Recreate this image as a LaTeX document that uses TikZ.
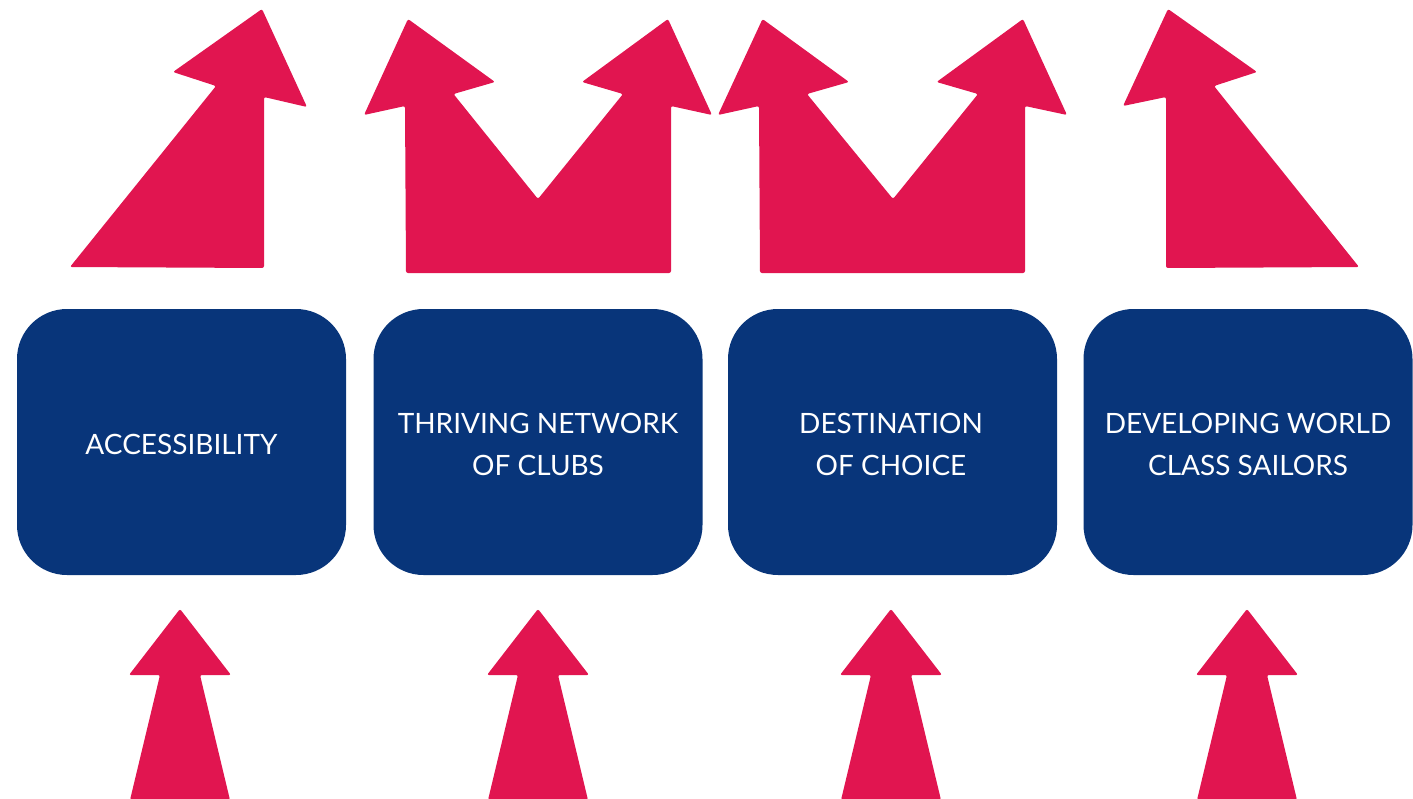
\documentclass[tikz,border=0pt]{standalone}
\usepackage{fontspec}
\setmainfont{Lato}
\definecolor{pinkred}{RGB}{225,21,80}
\definecolor{navy}{RGB}{8,53,122}
\begin{document}
\begin{tikzpicture}[x=1pt,y=-1pt,
  box/.style={fill=navy,rounded corners=50pt,minimum width=329pt,minimum height=266pt,
    text=white,align=center,font=\fontsize{28}{42}\selectfont,inner sep=0pt},
  lbl/.style={text=white,align=center,font=\fontsize{28}{42}\selectfont,inner sep=0pt},
  shp/.style={fill=pinkred,rounded corners=2pt}]
\useasboundingbox (0,0) rectangle (1413,798);
% boxes
\node[box] (b1) at (181.5,442) {};
\node[box] (b2) at (538,442) {};
\node[box] (b3) at (892.5,442) {};
\node[box] (b4) at (1248,442) {};
\node[lbl] (t1) at (181.5,444) {ACCESSIBILITY};
\node[lbl] (t2) at (538,444) {THRIVING NETWORK\\OF CLUBS};
\node[lbl] (t3) at (891,444) {DESTINATION\\OF CHOICE};
\node[lbl] (t4) at (1248,444) {DEVELOPING WORLD\\CLASS SAILORS};
% top arrows
\fill[shp] (70,267) -- (216,86) -- (173,72) -- (262,9) -- (307,107) -- (264,97) -- (264,268) -- cycle;
\fill[shp] (406,273) -- (405,106) -- (364,115) -- (408,19) -- (495,82) -- (453.5,94) -- (538,199)
  -- (623,94) -- (582,82) -- (668,19) -- (712,115) -- (671,106) -- (671,273) -- cycle;
\fill[shp] (760,273) -- (759,106) -- (718,115) -- (762.5,19) -- (849,82) -- (807,94) -- (893,199)
  -- (978,94) -- (936.6,82) -- (1023,19) -- (1067,115) -- (1025,106) -- (1025,273) -- cycle;
\fill[shp] (1359,267) -- (1214,86) -- (1257,72) -- (1168,9) -- (1123,106) -- (1166,97) -- (1166,268) -- cycle;
% bottom arrows
\foreach \cx in {180,538,891,1247}{
  \fill[shp] (\cx-50,800) -- (\cx-20,675) -- (\cx-51,675) -- (\cx,609) -- (\cx+51,675) -- (\cx+20,675) -- (\cx+50,800) -- cycle;
}
\end{tikzpicture}
\end{document}
